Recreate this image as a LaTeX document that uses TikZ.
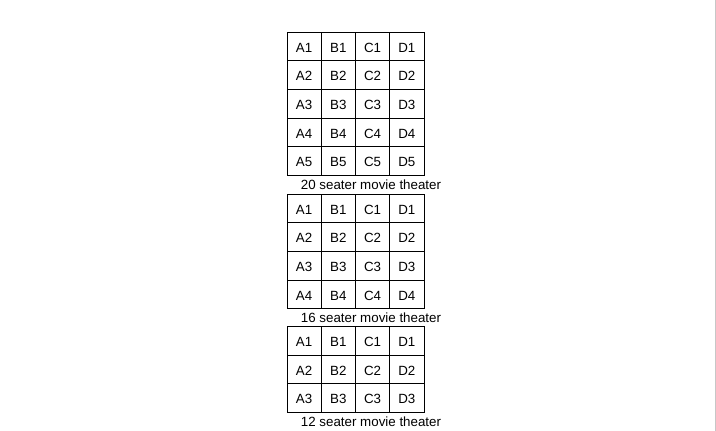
\documentclass[tikz,border=0pt]{standalone}
\usepackage{fontspec}
\setmainfont{Liberation Sans}
\begin{document}
\begin{tikzpicture}[x=0.75pt,y=-0.75pt]
\useasboundingbox (0,0) rectangle (716,431);
\draw[black!22, line width=1pt] (715.5,0) -- (715.5,431);
\begin{scope}[every node/.style={draw, line width=0.75pt, minimum width=25.69pt, minimum height=21.5pt, inner sep=0pt, text height=8.6pt, text depth=0pt, font=\fontsize{10}{12}\selectfont}]
\foreach \g/\ytop/\nrows in {20/32/5, 16/194/4, 12/326.5/3} {
  \foreach \col [count=\i] in {A,B,C,D} {
    \foreach \row in {1,...,\nrows} {
      \node (\col\row-\g) at ({287+34.25*(\i-0.5)}, {\ytop+28.7*(\row-0.5)}) {\col\row};
    }
  }
}
\end{scope}
\begin{scope}[every node/.style={inner sep=0pt, font=\fontsize{10}{12}\selectfont}]
\node (cap20) at (371,184.5) {20 seater movie theater};
\node (cap16) at (371,317.3) {16 seater movie theater};
\node (cap12) at (371,421.5) {12 seater movie theater};
\end{scope}
\end{tikzpicture}
\end{document}
